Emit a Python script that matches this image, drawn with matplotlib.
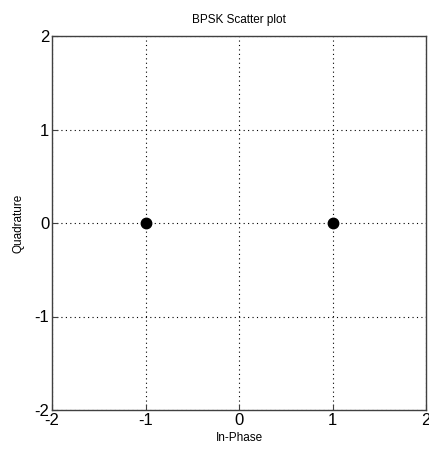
import numpy as np
from matplotlib import pyplot as plt

plt.rcParams["font.family"] = ["Liberation Sans", "DejaVu Sans"]
plt.rcParams["axes.unicode_minus"] = False

# BPSK constellation points
in_phase = [-1, 1]
quadrature = [0, 0]
ticks = [-2, -1, 0, 1, 2]

fig = plt.figure(figsize=(4.29, 4.5), dpi=100)
ax = fig.add_axes([52 / 429, 40 / 450, 374 / 429, 374 / 450])

ax.plot(in_phase, quadrature, "k", linestyle="", marker="o", markersize=7.5)
ax.set_xlim([-2, 2])
ax.set_ylim([-2, 2])
ax.set_xticks(ticks)
ax.set_yticks(ticks)
ax.tick_params(direction="in", length=4, labelsize=12, pad=2, colors="#404040", labelcolor="black")
ax.grid(True, color="black", linestyle=(0, (1, 3)), linewidth=0.8)
for s in ax.spines.values():
    s.set_color("#404040")
    s.set_linewidth(1.0)

ax.set_title("BPSK Scatter plot", fontsize=8.5, pad=9)
ax.set_xlabel("In-Phase", fontsize=8.5, labelpad=3)
ax.set_ylabel("Quadrature", fontsize=8.5, labelpad=7)

plt.savefig("out.png", dpi=100)
